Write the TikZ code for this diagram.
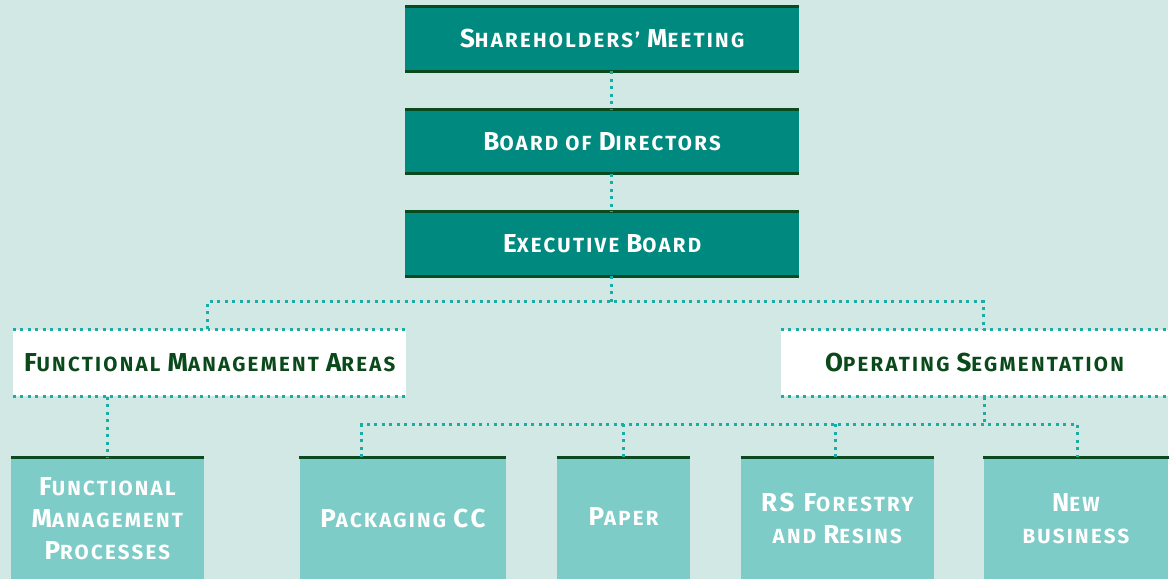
\documentclass[tikz,border=0pt]{standalone}
\usepackage{fontspec}
\setmainfont{Fira Sans}[LetterSpace=11]
\definecolor{bgc}{HTML}{D2E8E5}
\definecolor{tealbox}{HTML}{00897E}
\definecolor{darkline}{HTML}{0B4A1E}
\definecolor{lightbox}{HTML}{7ECCC7}
\definecolor{dotc}{HTML}{1AADA6}
\definecolor{darktext}{HTML}{0A4A1A}
\newcommand\Bg[1]{{\fontsize{26}{32}\selectfont #1}}
\begin{document}
\begin{tikzpicture}[x=1pt,y=-1pt,
  lbl/.style={font=\fontsize{20.5}{32}\selectfont\bfseries, align=center, inner sep=0pt},
  topbox/.style={lbl, fill=tealbox, text=white, minimum width=394, minimum height=64},
  midbox/.style={lbl, fill=white, text=darktext, minimum height=67},
  botbox/.style={lbl, fill=lightbox, text=white, minimum height=122},
  edge/.style={darkline, line width=3pt},
  dotline/.style={dotc, line width=3pt, dash pattern=on 3pt off 4.5pt}]
\fill[bgc] (0,0) rectangle (1170,580);
% top boxes
\node[topbox] (sh) at (603,39) {\Bg{S}HAREHOLDERS’ \Bg{M}EETING};
\node[topbox] (bd) at (603,142) {\Bg{B}OARD OF \Bg{D}IRECTORS};
\node[topbox] (ex) at (603,244.5) {\Bg{E}XECUTIVE \Bg{B}OARD};
\foreach \n in {sh,bd,ex}{
  \draw[edge] (\n.north west) -- (\n.north east);
  \draw[edge] (\n.south west) -- (\n.south east);
}
% middle boxes
\node[midbox, minimum width=394] (fma) at (210,363.5) {\Bg{F}UNCTIONAL \Bg{M}ANAGEMENT \Bg{A}REAS};
\node[midbox, minimum width=388] (os) at (976,363.5) {\Bg{O}PERATING \Bg{S}EGMENTATION};
\foreach \n in {fma,os}{
  \draw[dotline] (\n.north west) -- (\n.north east);
  \draw[dotline] (\n.south west) -- (\n.south east);
}
% bottom boxes
\node[botbox, minimum width=193] (fmp) at (107.5,519) {\Bg{F}UNCTIONAL\\\Bg{M}ANAGEMENT\\\Bg{P}ROCESSES};
\node[botbox, minimum width=207] (pk) at (403.5,519) {\Bg{P}ACKAGING \Bg{CC}};
\node[botbox, minimum width=133] (pa) at (624.5,519) {\raisebox{3pt}{\Bg{P}APER}};
\node[botbox, minimum width=193] (rs) at (838.5,519) {\Bg{RS F}ORESTRY\\AND \Bg{R}ESINS};
\node[botbox, minimum width=185] (nb) at (1077.5,519) {\Bg{N}EW\\BUSINESS};
\foreach \n in {fmp,pk,pa,rs,nb}{
  \draw[edge] (\n.north west) -- (\n.north east);
}
% connectors
\coordinate (j1) at (612,302);
\coordinate (j2) at (986,425);
\draw[dotline] ([xshift=9]sh.south) -- ([xshift=9]bd.north);
\draw[dotline] ([xshift=9]bd.south) -- ([xshift=9]ex.north);
\draw[dotline] (ex.south -| j1) -- (j1);
\draw[dotline] ([xshift=-2]fma.north) |- (j1) -| ([xshift=9]os.north);
\draw[dotline] (os.south -| j2) -- (j2);
\draw[dotline] (fma.south -| fmp.north) -- (fmp.north);
\draw[dotline] ([xshift=-41]pk.north) |- (j2) -| ([xshift=2]nb.north);
\draw[dotline] (pa.north) -- (pa.north |- j2);
\draw[dotline] ([xshift=-2]rs.north) -- ([xshift=-2]rs.north |- j2);
\end{tikzpicture}
\end{document}
